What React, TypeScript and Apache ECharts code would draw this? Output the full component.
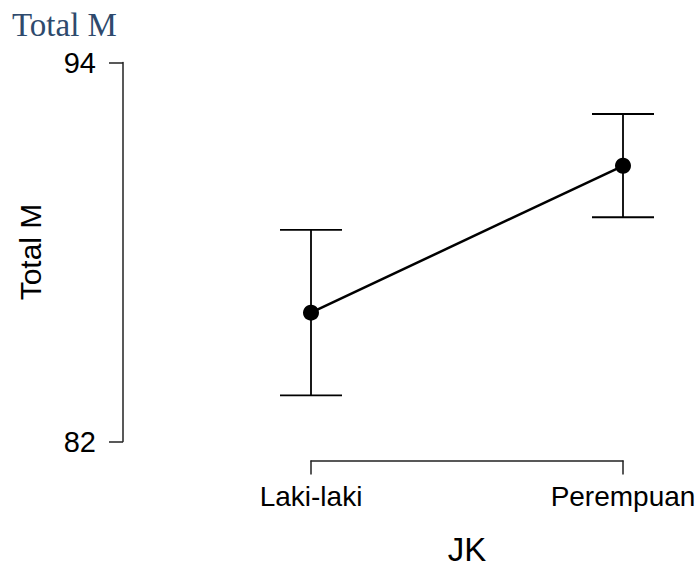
import React, { useEffect, useRef } from "react";
import * as echarts from "echarts";

const categories = ["Laki-laki", "Perempuan"];
const means = [86.08, 90.73];
const lowerCI = [83.46, 89.1];
const upperCI = [88.7, 92.37];
const yTicks = [82, 94];

export default function App() {
  const ref = useRef<HTMLDivElement>(null);
  useEffect(() => {
    if (!ref.current) return;
    const chart = echarts.init(ref.current, null, { renderer: "svg" });
    const font = "'Liberation Sans', Arial, sans-serif";
    chart.setOption({
      animation: false,
      backgroundColor: "#fff",
      graphic: [
        {
          type: "text",
          left: 12,
          top: 8,
          style: {
            text: "Total M",
            font: "33px 'Liberation Serif', 'Times New Roman', serif",
            fill: "#2e4a6d",
          },
        },
      ],
      grid: { left: 311, right: 76, top: 62.5, bottom: 130.5, containLabel: false },
      xAxis: {
        type: "category",
        data: categories,
        boundaryGap: false,
        offset: 19,
        axisLine: { show: true, lineStyle: { color: "#222", width: 1.5 } },
        axisTick: { show: true, length: 14, inside: false, alignWithLabel: true, lineStyle: { color: "#222", width: 1.5 } },
        axisLabel: { margin: 22, fontSize: 28, color: "#000", fontFamily: font },
        splitLine: { show: false },
        name: "JK",
        nameLocation: "middle",
        nameGap: 72,
        nameTextStyle: { fontSize: 33, color: "#000", fontFamily: font },
      },
      yAxis: {
        type: "value",
        min: yTicks[0],
        max: yTicks[1],
        interval: yTicks[1] - yTicks[0],
        offset: 188,
        axisLine: { show: true, lineStyle: { color: "#222", width: 1.5 } },
        axisTick: { show: true, length: 14, inside: false, lineStyle: { color: "#222", width: 1.5 } },
        axisLabel: { margin: 27, fontSize: 29, color: "#000", fontFamily: font },
        splitLine: { show: false },
        name: "Total M",
        nameLocation: "middle",
        nameRotate: 90,
        nameGap: 78,
        nameTextStyle: { fontSize: 30, color: "#000", fontFamily: font },
      },
      series: [
        {
          type: "custom",
          z: 2,
          data: categories.map((_, i) => [i, lowerCI[i], upperCI[i]]),
          renderItem: (params: any, api: any) => {
            const x = api.value(0);
            const pLo = api.coord([x, api.value(1)]);
            const pHi = api.coord([x, api.value(2)]);
            const w = 31;
            const style = { stroke: "#000", lineWidth: 1.8 };
            return {
              type: "group",
              children: [
                { type: "line", shape: { x1: pLo[0], y1: pLo[1], x2: pHi[0], y2: pHi[1] }, style },
                { type: "line", shape: { x1: pLo[0] - w, y1: pLo[1], x2: pLo[0] + w, y2: pLo[1] }, style },
                { type: "line", shape: { x1: pHi[0] - w, y1: pHi[1], x2: pHi[0] + w, y2: pHi[1] }, style },
              ],
            };
          },
        },
        {
          type: "line",
          z: 3,
          data: means,
          symbol: "circle",
          symbolSize: 16,
          itemStyle: { color: "#000" },
          lineStyle: { color: "#000", width: 2.5 },
        },
      ],
    });
    return () => chart.dispose();
  }, []);
  return (
    <div
      ref={ref}
      style={{ position: "fixed", left: 0, top: 0, width: 699, height: 572 }}
    />
  );
}
